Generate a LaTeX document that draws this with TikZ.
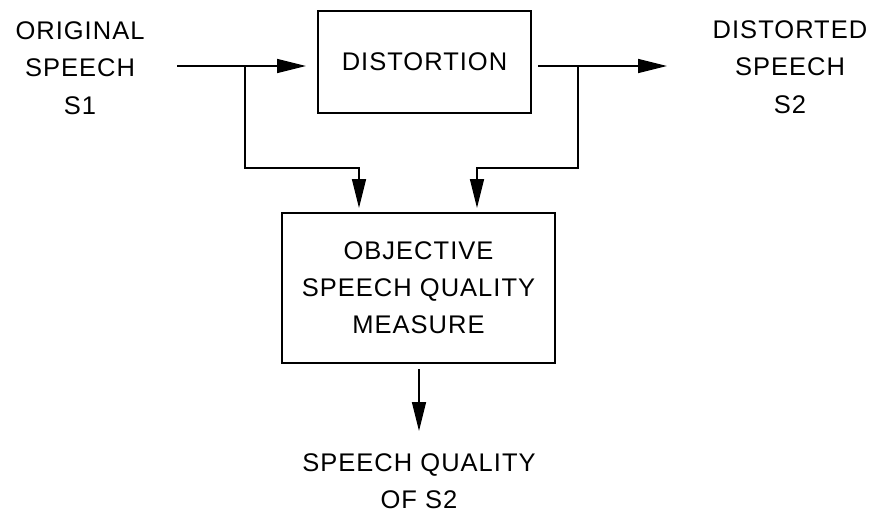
\documentclass[tikz,border=0pt]{standalone}
\usepackage{fontspec}
\setmainfont{Liberation Sans}[LetterSpace=4]
\usetikzlibrary{arrows.meta}
\begin{document}
\begin{tikzpicture}[x=1pt,y=-1pt,
  lbl/.style={align=center,inner sep=0pt,font=\fontsize{25.5}{37.5}\selectfont},
  blk/.style={draw,line width=1.4pt,inner sep=0pt,align=center,font=\fontsize{25.5}{37}\selectfont},
  arr/.style={line width=1.4pt,-{Triangle[length=29pt,width=14pt]}}]
\useasboundingbox (0,0) rectangle (874,513);
\node[blk,minimum width=213pt,minimum height=102pt] (dist) at (424.5,62) {DISTORTION};
\node[blk,minimum width=273pt,minimum height=150pt] (obj) at (418.5,288) {OBJECTIVE\\SPEECH QUALITY\\MEASURE};
\node[lbl] (orig) at (80,68) {ORIGINAL\\SPEECH\\S1};
\node[lbl] (dst) at (790,67) {DISTORTED\\SPEECH\\S2};
\node[lbl] (sq) at (419,481) {SPEECH QUALITY\\OF S2};
\coordinate (in) at (177,66);
\coordinate (inTip) at (306,66);
\coordinate (b1) at (245,66);
\coordinate (b1c) at (245,168);
\coordinate (b1d) at (359,168);
\coordinate (b1t) at (359,208);
\coordinate (out) at (538,66);
\coordinate (outTip) at (667,66);
\coordinate (b2) at (578,66);
\coordinate (b2c) at (578,168);
\coordinate (b2d) at (477,168);
\coordinate (b2t) at (477,208);
\coordinate (qs) at (419,369);
\coordinate (qt) at (419,431);
\draw[arr] (in) -- (inTip);
\draw[arr] (b1) -- (b1c) -- (b1d) -- (b1t);
\draw[arr] (out) -- (outTip);
\draw[arr] (b2) -- (b2c) -- (b2d) -- (b2t);
\draw[arr] (qs) -- (qt);
\end{tikzpicture}
\end{document}
